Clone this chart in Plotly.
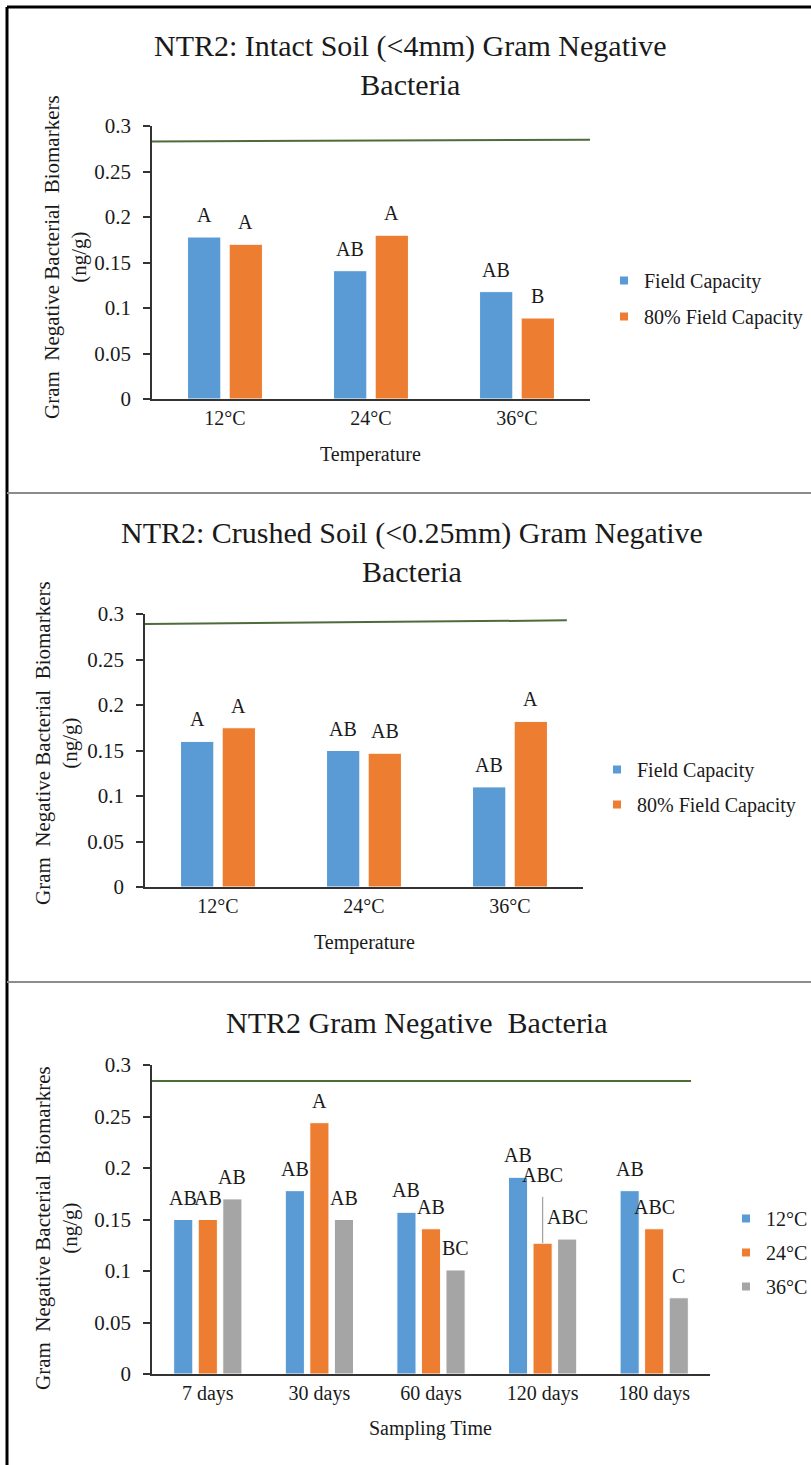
import plotly.graph_objects as go

# ---------------- data ----------------
temps = ["12°C", "24°C", "36°C"]

p1_fc = [0.178, 0.141, 0.118]
p1_80 = [0.170, 0.180, 0.089]
p1_fc_lbl = ["A", "AB", "AB"]
p1_80_lbl = ["A", "A", "B"]
p1_ref = [0.283, 0.285]

p2_fc = [0.160, 0.150, 0.110]
p2_80 = [0.175, 0.147, 0.182]
p2_fc_lbl = ["A", "AB", "AB"]
p2_80_lbl = ["A", "AB", "A"]
p2_ref = [0.289, 0.293]

days = ["7 days", "30 days", "60 days", "120 days", "180 days"]
p3_12 = [0.150, 0.178, 0.157, 0.191, 0.178]
p3_24 = [0.150, 0.244, 0.141, 0.127, 0.141]
p3_36 = [0.170, 0.150, 0.101, 0.131, 0.074]
p3_24_err = [0, 0, 0, 0.045, 0]
p3_12_lbl = ["AB", "AB", "AB", "AB", "AB"]
p3_24_lbl = ["AB", "A", "AB", "ABC", "ABC"]
p3_36_lbl = ["AB", "AB", "BC", "ABC", "C"]
p3_ref = [0.2845, 0.2845]

BLUE, ORANGE, GRAY = "#5B9BD5", "#ED7D31", "#A5A5A5"
GREEN = "#4E6B3A"
FONT = "Liberation Serif, Times New Roman, serif"
TXT = "#1a1a1a"

W, H = 811, 1465
def px(x):  # page x pixel -> paper
    return x / W
def py(y):  # page y pixel -> paper
    return 1 - y / H

fig = go.Figure()
annotations = []
shapes = []

panels = [
    dict(ax="", cats=temps, series=[("Field Capacity", p1_fc, BLUE, p1_fc_lbl, None),
                                     ("80% Field Capacity", p1_80, ORANGE, p1_80_lbl, None)],
         ref=p1_ref, ref_end=1.0, xdom=(152, 590), ydom=(399, 126), bargap=0.43, groupgap=0.2,
         title="NTR2: Intact Soil (<4mm) Gram Negative<br>Bacteria", title_xy=(410, 65),
         ytitle="Gram\u00a0 Negative Bacterial\u00a0 Biomarkers<br>(ng/g)", ytitle_xy=(66, 257),
         xtitle="Temperature", xtitle_xy=(370, 455),
         legend=dict(x=604, y=261), gap=7),
    dict(ax="2", cats=temps, series=[("Field Capacity", p2_fc, BLUE, p2_fc_lbl, None),
                                      ("80% Field Capacity", p2_80, ORANGE, p2_80_lbl, None)],
         ref=p2_ref, ref_end=0.963, xdom=(145, 583), ydom=(887, 614), bargap=0.43, groupgap=0.2,
         title="NTR2: Crushed Soil (<0.25mm) Gram Negative<br>Bacteria", title_xy=(412, 552),
         ytitle="Gram\u00a0 Negative Bacterial\u00a0 Biomarkers<br>(ng/g)", ytitle_xy=(56, 743),
         xtitle="Temperature", xtitle_xy=(364, 942),
         legend=dict(x=597, y=750), gap=6),
    dict(ax="3", cats=days, series=[("12°C", p3_12, BLUE, p3_12_lbl, None),
                                     ("24°C", p3_24, ORANGE, p3_24_lbl, p3_24_err),
                                     ("36°C", p3_36, GRAY, p3_36_lbl, None)],
         ref=p3_ref, ref_end=0.966, xdom=(152, 710), ydom=(1374, 1065), bargap=0.34, groupgap=0.22,
         title="NTR2 Gram Negative\u00a0 Bacteria", title_xy=(417, 1022),
         ytitle="Gram\u00a0 Negative Bacterial\u00a0 Biomarkres<br>(ng/g)", ytitle_xy=(56, 1228),
         xtitle="Sampling Time", xtitle_xy=(430, 1428),
         legend=dict(x=726, y=1199), gap=5),
]

layout_axes = {}
for i, p in enumerate(panels):
    ax = p["ax"]
    xa, ya = "x" + ax, "y" + ax
    legname = "legend" + ("" if i == 0 else str(i + 1))
    n = len(p["series"])
    slot = (1 - p["bargap"]) / n
    bw = slot * (1 - p["groupgap"])
    for j, (name, vals, col, lbls, err) in enumerate(p["series"]):
        centre = (j - (n - 1) / 2) * slot
        bar = go.Bar(x=p["cats"], y=vals, marker=dict(color=col, line=dict(color="white", width=1)),
                     xaxis=xa, yaxis=ya, showlegend=False, name=name,
                     width=bw, offset=centre - bw / 2)
        if err is not None:
            bar.error_y = dict(type="data", symmetric=False, array=err, arrayminus=[0] * len(err),
                               color="#A5A5A5", thickness=1.3, width=0)
        fig.add_trace(bar)
        fig.add_trace(go.Scatter(x=[None], y=[None], mode="markers", name=name,
                                 marker=dict(symbol="square", size=8, color=col),
                                 xaxis=xa, yaxis=ya, legend=legname, legendgroup=f"{i}-{j}"))
        for k, lab in enumerate(lbls):
            top = vals[k] + (err[k] if err is not None else 0)
            annotations.append(dict(x=k + centre, y=top, xref=xa, yref=ya,
                                    text=lab, showarrow=False, yanchor="middle", yshift=22,
                                    font=dict(family=FONT, size=20, color=TXT)))
    # reference line
    shapes.append(dict(type="line", xref=f"{xa} domain", yref=ya, x0=0, x1=p["ref_end"],
                       y0=p["ref"][0], y1=p["ref"][1], line=dict(color=GREEN, width=2)))
    layout_axes["xaxis" + ax] = dict(domain=[px(p["xdom"][0]), px(p["xdom"][1])], anchor=ya,
                                     showline=True, linecolor="#333", linewidth=1.5, ticks="",
                                     showgrid=False, zeroline=False, automargin=False,
                                     tickfont=dict(family=FONT, size=20, color=TXT))
    layout_axes["yaxis" + ax] = dict(domain=[py(p["ydom"][0]), py(p["ydom"][1])], anchor=xa,
                                     range=[0, 0.3], dtick=0.05, showline=True, linecolor="#333",
                                     linewidth=1.5, ticks="outside", ticklen=7, tickwidth=1.5,
                                     tickcolor="#333", showgrid=False, zeroline=False,
                                     ticklabelstandoff=8, automargin=False,
                                     tickfont=dict(family=FONT, size=21, color=TXT))
    layout_axes[legname] = dict(x=px(p["legend"]["x"]), y=py(p["legend"]["y"]), xanchor="left",
                                yanchor="top", bgcolor="rgba(0,0,0,0)", tracegroupgap=p["gap"],
                                font=dict(family=FONT, size=20, color=TXT), itemwidth=30)
    annotations.append(dict(x=px(p["title_xy"][0]), y=py(p["title_xy"][1]), xref="paper", yref="paper",
                            text=p["title"], showarrow=False, xanchor="center", yanchor="middle",
                            font=dict(family=FONT, size=30, color=TXT)))
    annotations.append(dict(x=px(p["ytitle_xy"][0]), y=py(p["ytitle_xy"][1]), xref="paper", yref="paper",
                            text=p["ytitle"], showarrow=False, textangle=-90, xanchor="center",
                            yanchor="middle", font=dict(family=FONT, size=21, color=TXT)))
    annotations.append(dict(x=px(p["xtitle_xy"][0]), y=py(p["xtitle_xy"][1]), xref="paper", yref="paper",
                            text=p["xtitle"], showarrow=False, xanchor="center", yanchor="middle",
                            font=dict(family=FONT, size=20, color=TXT)))

# frame and separators
shapes += [
    dict(type="line", xref="paper", yref="paper", x0=px(7), x1=1, y0=py(7), y1=py(7),
         line=dict(color="black", width=3)),
    dict(type="line", xref="paper", yref="paper", x0=px(7), x1=px(7), y0=0, y1=py(7),
         line=dict(color="black", width=3)),
    dict(type="line", xref="paper", yref="paper", x0=px(7), x1=1, y0=py(493), y1=py(493),
         line=dict(color="#8c8c8c", width=2)),
    dict(type="line", xref="paper", yref="paper", x0=px(7), x1=1, y0=py(982), y1=py(982),
         line=dict(color="#8c8c8c", width=2)),
]

fig.update_layout(width=W, height=H, margin=dict(l=0, r=0, t=0, b=0, pad=0, autoexpand=False),
                  paper_bgcolor="white", plot_bgcolor="white", barmode="overlay",
                  showlegend=True, annotations=annotations, shapes=shapes,
                  font=dict(family=FONT, color=TXT), **layout_axes)
fig.write_html("out.html",
               post_script=["document.body.style.margin='0px';document.body.style.padding='0px';"])
